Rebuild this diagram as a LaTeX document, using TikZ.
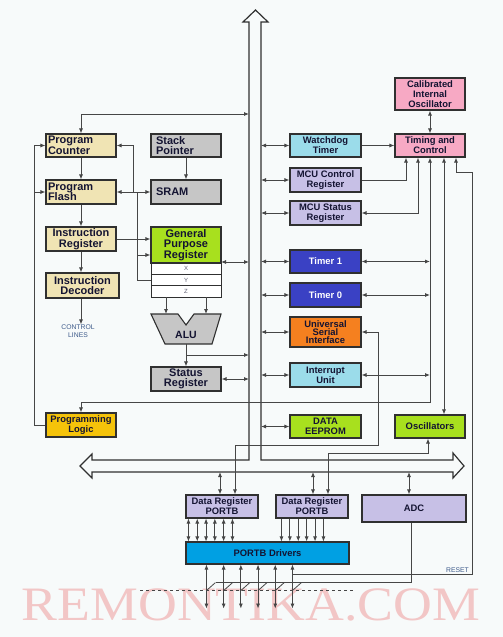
\documentclass[tikz,border=0pt]{standalone}
\usepackage{fontspec}
\setmainfont{Liberation Sans}
\newfontfamily\wmfont{Liberation Serif}
\usetikzlibrary{positioning, arrows.meta}
\definecolor{Back}{HTML}{F7FAFA}
\definecolor{Edge}{HTML}{303030}
\definecolor{Wire}{HTML}{464646}
\definecolor{Ink}{HTML}{141432}
\definecolor{Note}{HTML}{3D5A8A}
\definecolor{Beige}{HTML}{F0E4B4}
\definecolor{Gold}{HTML}{F5C30A}
\definecolor{Stone}{HTML}{C6C6C6}
\definecolor{Lime}{HTML}{A8E01E}
\definecolor{Sky}{HTML}{9BDCEA}
\definecolor{Lilac}{HTML}{C7C0E6}
\definecolor{Indigo}{HTML}{3A41C4}
\definecolor{Orange}{HTML}{F5801F}
\definecolor{Rose}{HTML}{F7A9C4}
\definecolor{Cyan}{HTML}{00A0E3}
\definecolor{Wm}{HTML}{F2C6C6}
\tikzset{
    blk/.style={rectangle, draw=Edge, line width=1.1pt, align=center, inner sep=1pt, text=Ink, font=\bfseries\fontsize{9.4}{9.8}\selectfont},
    bigtxt/.style={font=\bfseries\fontsize{11}{10.5}\selectfont},
    regrow/.style={rectangle, draw=Edge, line width=0.8pt, fill=white, minimum width=70pt, minimum height=11.3pt, inner sep=0pt, font=\fontsize{6}{6}\selectfont, text=Ink!70},
    link/.style={draw=Wire, line width=0.8pt},
    arr/.style={link, -{Latex[length=5pt, width=4pt]}},
    dbl/.style={link, {Latex[length=5pt, width=4pt]}-{Latex[length=5pt, width=4pt]}},
    bus/.style={draw=Edge, line width=1.2pt, fill=Back, line join=miter},
    note/.style={font=\fontsize{6.8}{8}\selectfont, text=Note, align=center, inner sep=0pt},
}

\begin{document}
\begin{tikzpicture}[x=1pt, y=-1pt]
    \useasboundingbox (0,0) rectangle (503,637);
    \fill[Back] (0,0) rectangle (503,637);

    % watermark
    \node[font=\wmfont\fontsize{48}{48}\selectfont, text=Wm, inner sep=0pt, anchor=base] (wm) at (251,620) {\scalebox{1.12}[1]{REMONTIKA.COM}};

    % --- data bus ---
    \coordinate (busL) at (249,0);
    \coordinate (busR) at (261,0);
    \coordinate (busB) at (0,472);
    \draw[bus] (80,466) -- (92,454) -- (92,460) -- (249,460) -- (249,22) -- (243,22) -- (255.5,10)
        -- (268,22) -- (261,22) -- (261,460) -- (453,460) -- (453,453) -- (464,466) -- (453,478)
        -- (453,472) -- (92,472) -- (92,478) -- cycle;

    % --- CPU core (left) ---
    \node[blk, bigtxt, fill=Beige, minimum width=70pt, minimum height=23pt, text width=66pt, align=left] (pc) at (81,145.5) {Program\\Counter};
    \node[blk, bigtxt, fill=Beige, minimum width=70pt, minimum height=24pt, text width=66pt, align=left] (pf) at (81,192) {Program\\Flash};
    \node[blk, bigtxt, fill=Beige, minimum width=70pt, minimum height=24pt] (ir) at (81,239) {Instruction\\Register};
    \node[blk, bigtxt, fill=Beige, minimum width=73pt, minimum height=25pt] (idec) at (82.5,285.5) {Instruction\\Decoder};
    \node[note] (ctl) at (78,331) {CONTROL\\LINES};
    \node[blk, fill=Gold, minimum width=70pt, minimum height=24pt] (pl) at (81,425) {Programming\\Logic};

    \node[blk, bigtxt, fill=Stone, minimum width=70pt, minimum height=23pt, text width=60pt, align=left] (sp) at (186,145.5) {Stack\\Pointer};
    \node[blk, bigtxt, fill=Stone, minimum width=70pt, minimum height=24pt, text width=60pt, align=left] (sram) at (186,192) {SRAM};
    \node[blk, bigtxt, fill=Lime, minimum width=70pt, minimum height=36pt] (gpr) at (186,245) {General\\Purpose\\Register};
    \node[regrow, below=-0.8pt of gpr] (rx) {X};
    \node[regrow, below=-0.8pt of rx] (ry) {Y};
    \node[regrow, below=-0.8pt of ry] (rz) {Z};
    \draw[draw=Edge, line width=1.1pt, fill=Stone] (151,314) -- (178,314) -- (186,325) -- (194,314) -- (221,314) -- (212,344) -- (165,344) -- cycle;
    \node[font=\bfseries\fontsize{10.5}{10.5}\selectfont, text=Ink] (alu) at (186,335) {ALU};
    \node[blk, bigtxt, fill=Stone, minimum width=70pt, minimum height=24pt] (sreg) at (186,379) {Status\\Register};

    % --- peripherals (right) ---
    \node[blk, fill=Sky, minimum width=71pt, minimum height=23pt] (wdt) at (325.5,145.5) {Watchdog\\Timer};
    \node[blk, fill=Lilac, minimum width=71pt, minimum height=24pt] (mcucr) at (325.5,180) {MCU Control\\Register};
    \node[blk, fill=Lilac, minimum width=71pt, minimum height=24pt] (mcusr) at (325.5,213) {MCU Status\\Register};
    \node[blk, fill=Indigo, text=white, minimum width=71pt, minimum height=23pt] (t1) at (325.5,261.5) {Timer 1};
    \node[blk, fill=Indigo, text=white, minimum width=71pt, minimum height=24pt] (t0) at (325.5,295) {Timer 0};
    \node[blk, fill=Orange, minimum width=71pt, minimum height=30pt, font=\bfseries\fontsize{9.4}{8.2}\selectfont] (usi) at (325.5,332) {Universal\\Serial\\Interface};
    \node[blk, fill=Sky, minimum width=71pt, minimum height=24pt] (iu) at (325.5,375) {Interrupt\\Unit};
    \node[blk, fill=Lime, minimum width=71pt, minimum height=23pt] (eep) at (325.5,426.5) {DATA\\EEPROM};

    \node[blk, fill=Rose, minimum width=70pt, minimum height=32pt] (cio) at (430,94) {Calibrated\\Internal\\Oscillator};
    \node[blk, fill=Rose, minimum width=70pt, minimum height=23pt] (tc) at (430,145.5) {Timing and\\Control};
    \node[blk, fill=Lime, minimum width=70pt, minimum height=23pt] (osc) at (430,426.5) {Oscillators};

    % --- port B ---
    \node[blk, fill=Lilac, minimum width=72pt, minimum height=23pt] (dr1) at (222,506.5) {Data Register\\PORTB};
    \node[blk, fill=Lilac, minimum width=72pt, minimum height=23pt] (dr2) at (312,506.5) {Data Register\\PORTB};
    \node[blk, fill=Lilac, minimum width=104pt, minimum height=27pt] (adc) at (414,508.5) {ADC};
    \node[blk, fill=Cyan, minimum width=163pt, minimum height=22pt] (drv) at (267.5,553) {PORTB Drivers};
    \node[note, anchor=base east] (rst) at (469,572) {RESET};

    % --- core connections ---
    \draw[dbl] (pc.north) |- (busL |- 0,114);
    \draw[arr] (pc.south) -- (pf.north);
    \draw[arr] (pf.south) -- (ir.north);
    \draw[arr] (ir.south) -- (ir.south |- idec.north);
    \draw[arr] (ir.south |- idec.south) -- (ir.south |- ctl.north);
    \draw[arr] (sp.south) -- (sram.north);
    \draw[dbl] (pc.east) -- ++(17,0) |- (sram.west);
    \draw[arr] (ry.west) -- ++(-13,0) |- (pf.east);
    \coordinate (gprtap) at (138,255);
    \draw[arr] (gprtap) -- (gprtap -| gpr.west);
    \draw[arr] (ir.east) -- (ir.east -| gpr.west);
    \coordinate (gprio) at (221,262);
    \draw[dbl] (gprio) -- (gprio -| busL);
    \coordinate (aluinL) at (166,314);
    \coordinate (aluinR) at (206,314);
    \draw[arr] (aluinL |- rz.south) -- (aluinL);
    \draw[arr] (aluinR |- rz.south) -- (aluinR);
    \coordinate (aluout) at (186,344);
    \coordinate (alutap) at (186,355);
    \draw[arr] (aluout) -- (sreg.north);
    \draw[arr] (alutap) -- (alutap -| busL);
    \draw[dbl] (sreg.east) -- (sreg.east -| busL);
    \coordinate (loopx) at (34,0);
    \draw[arr] (pl.west) -| (loopx |- pc.west) -- (pc.west);
    \draw[arr] (loopx |- pf.west) -- (pf.west);

    % --- peripheral connections ---
    \foreach \n in {wdt,mcucr,mcusr,t1,t0,usi,iu,eep}
        \draw[dbl] (busR |- \n.west) -- (\n.west);
    \draw[arr] (wdt.east) -- (tc.west);
    \draw[dbl] (cio.south) -- (tc.north);
    \draw[arr] (mcucr.east) -| ([xshift=-24pt]tc.south);
    \draw[dbl] ([xshift=-12pt]tc.south) |- (mcusr.east);
    \coordinate (ctrlrow) at (0,402);
    \draw[dbl] (tc.south) -- (tc.south |- ctrlrow) -| (pl.north);
    \foreach \n in {t1,t0,iu}
        \draw[dbl] (\n.east) -- (\n.east -| tc.south);
    \draw[dbl] ([xshift=14pt]tc.south) -- ([xshift=14pt]osc.north);
    \coordinate (usibend) at (378,445);
    \draw[dbl] (usi.east) -| (usibend) -| ([xshift=13pt]dr1.north);
    \draw[dbl] ([xshift=-2pt]osc.south) -- ++(0,15) -| ([xshift=16pt]dr2.north);

    % --- port connections ---
    \coordinate (dr1bus) at (220,472);
    \coordinate (dr2bus) at (313,472);
    \coordinate (adcbus) at (409,472);
    \draw[dbl] (dr1bus) -- (dr1bus |- dr1.north);
    \draw[dbl] (dr2bus) -- (dr2bus |- dr2.north);
    \draw[dbl] (adcbus) -- (adcbus |- adc.north);
    \foreach \i in {0,...,5} {
        \draw[dbl] ([xshift={3pt+8.8pt*\i}]dr1.south west) -- ([xshift={3pt+8.8pt*\i}]dr1.south west |- drv.north);
        \draw[arr] ([xshift={6pt+8.4pt*\i}]dr2.south west) -- ([xshift={6pt+8.4pt*\i}]dr2.south west |- drv.north);
        \coordinate (pin\i) at ([xshift={21pt+17.2pt*\i}]drv.south west);
    }
    \foreach \i in {0,...,5} {
        \draw[dbl] (pin\i) -- ++(0,44);
        \draw[link] (pin\i) ++(0,26) -- ++(9,-8);
    }
    \draw[link, dashed] (140,590) -- (353,590);
    \draw[link] ([xshift=-3pt]adc.south) |- ([xshift=10pt, yshift=-18pt]pin0);
    \coordinate (rstc) at (472,574);
    \draw[arr] (pin5 |- rstc) -- (rstc) -- (rstc |- 0,172) -| ([xshift=26pt]tc.south);
\end{tikzpicture}
\end{document}
